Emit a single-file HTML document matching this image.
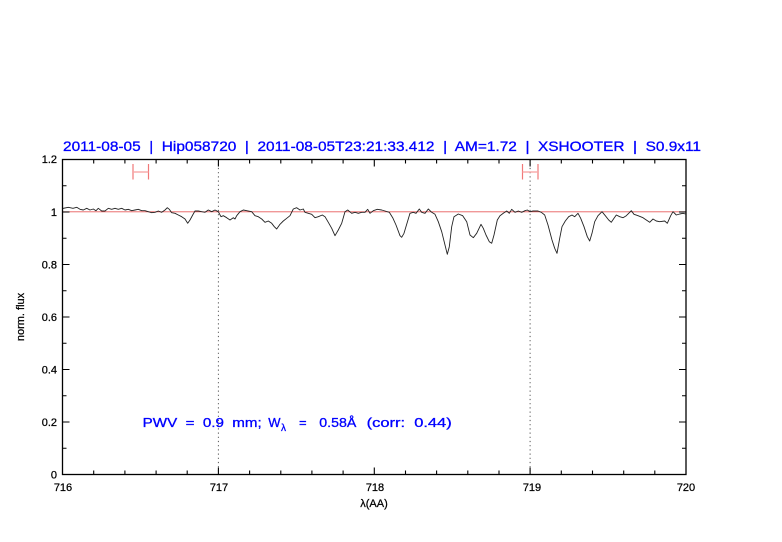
<!DOCTYPE html>
<html><head><meta charset="utf-8"><style>
html,body{margin:0;padding:0;background:#fff;}
svg{display:block;}
</style></head><body>
<svg width="782" height="542" viewBox="0 0 782 542" xmlns="http://www.w3.org/2000/svg" font-family="'Liberation Sans', sans-serif">
<rect width="782" height="542" fill="#fff"/>
<!-- title -->
<text x="63" y="151" font-size="14" fill="#0000ff" stroke="#0000ff" stroke-width="0.3" textLength="638" lengthAdjust="spacingAndGlyphs" xml:space="preserve">2011-08-05  |  Hip058720  |  2011-08-05T23:21:33.412  |  AM=1.72  |  XSHOOTER  |  S0.9x11</text>
<!-- reference line at 1.0 -->
<line x1="62.5" y1="211.8" x2="686" y2="211.8" stroke="#e85a5a" stroke-width="0.9"/>
<!-- dotted verticals -->
<line x1="218.4" y1="159.5" x2="218.4" y2="474.5" stroke="#555" stroke-width="1" stroke-dasharray="1.2,3"/>
<line x1="530.1" y1="159.5" x2="530.1" y2="474.5" stroke="#555" stroke-width="1" stroke-dasharray="1.2,3"/>
<!-- error bars -->
<g stroke="#f07878" stroke-width="1.2">
<line x1="133" y1="164" x2="133" y2="179.5"/><line x1="148.5" y1="164" x2="148.5" y2="179.5"/>
<line x1="522.5" y1="164" x2="522.5" y2="179.5"/><line x1="538" y1="164" x2="538" y2="179.5"/>
</g>
<g stroke="#f8a8a8" stroke-width="1.4">
<line x1="133" y1="172" x2="148.5" y2="172"/><line x1="522.5" y1="172" x2="538" y2="172"/>
</g>
<!-- spectrum -->
<polyline fill="none" stroke="#222" stroke-width="0.9" stroke-linejoin="round" points="
62.5,208.5 68.3,207.3 73,208.3 76.7,207.3 80,209.3 83.3,210 86.7,208.3 90,210 93.3,209 96,210.7 98.3,208.3 101.7,211 105,211 108.3,208.3 111.7,209.3 115,208.3 118.3,209.3 121.7,208.3 125,210 128.3,209.3 131.7,210.7 135,210 138.3,209.3 141.7,210.7 145,210.7 148.3,211.7 151.7,212.7 155,212.3 158.3,211 161.7,212.3 165,210 167.3,207.7 169.3,209.3 171.7,212.7 175,213.3 178.3,215 181.7,216.7 185,219 187.7,223.3 190,220 192.7,215 195,211 198.3,211 201.7,211.7 205,212.3 208.3,210 211.7,211.7 215,210 218.3,211.7 221,216.7 223.3,215.7 226.7,217.7 230,220 233.3,217.7 235,219 236.7,215.7 240,211.7 243.3,210 246.7,210.7 251.7,211.7 255,215.7 258.3,216.7 261.7,219 265,222.3 268.3,221 271.7,223.3 274.3,226.7 276.7,229 280,224.3 283.3,221 286.7,218.3 290,215.7 293.3,209 296.7,207.7 300,210 303.3,209 305,212.3 308.3,213.3 311.7,214.3 315,217.7 318.3,216.7 322.3,215 325,216.7 328.3,222.3 331.7,228.3 335,235.7 338.3,230 341.7,223.3 345,211.7 347.7,210 351.7,213.3 355,212.3 358.3,213.3 361.7,212.3 365,212.3 367.7,209.3 370,213.3 373.3,210.7 377.3,209.3 381.7,210 385,211 389.3,212.3 392.7,217.7 396,225 400,235.7 401.7,237.3 404,233.3 407.3,222.3 410,213.3 413.3,212.3 416,213.3 419.3,209 421.7,212.3 425,213.3 428.3,209 431.7,212.3 435,214.3 438.3,221.7 441.7,231.7 445,245 447.3,254.3 449.3,246.7 451.7,226.7 454,216.7 458.3,214 462.7,215.7 466.7,221.7 470,235 473.3,237.7 476.7,233.3 481,224.3 483.3,228.3 486,235 489.3,241.7 491.7,243.3 494,235 497.3,220 500,215.7 503.3,213.3 506.7,211 509.3,213.3 511.7,209.3 515,212.3 518.3,211 521.7,212.3 525,210.7 527.3,210 530,211.7 533,211 538,211 541.3,212.3 544.7,215 548,225 552,240 554.7,248.3 557,253.3 559.7,238.3 562,226.7 565.3,221 568.7,216.7 572,215 574.7,216.7 578,213.3 580.7,218.3 584,226.7 587.3,236.7 589.7,241 592,233.3 594.7,221.7 598,215.7 602,211.7 605.3,215.7 608.7,220 611.3,222.3 614,218.3 616.3,215 619.7,216.7 623,217.7 626.3,215.7 628.7,213.3 631.3,210.7 634,214.3 638,215.7 643,217.7 646.3,220 649.7,222.3 653,219 656.3,221 659.7,221.7 664.7,221 667.3,223.3 670.7,215.7 673,211.7 676.3,215 679.7,214 683,213.3 685.5,214"/>
<!-- axes box -->
<rect x="62.5" y="159.5" width="623.5" height="315" fill="none" stroke="#000" stroke-width="1.3"/>
<!-- ticks -->
<g stroke="#000" stroke-width="1.1">
<path d="M218.4,474.5v-7M374.3,474.5v-7M530.1,474.5v-7M218.4,159.5v7M374.3,159.5v7M530.1,159.5v7"/>
<path d="M93.7,474.5v-4M124.9,474.5v-4M156.1,474.5v-4M187.2,474.5v-4M249.6,474.5v-4M280.8,474.5v-4M311.9,474.5v-4M343.1,474.5v-4M405.5,474.5v-4M436.6,474.5v-4M467.8,474.5v-4M499,474.5v-4M561.3,474.5v-4M592.5,474.5v-4M623.7,474.5v-4M654.8,474.5v-4
M93.7,159.5v4M124.9,159.5v4M156.1,159.5v4M187.2,159.5v4M249.6,159.5v4M280.8,159.5v4M311.9,159.5v4M343.1,159.5v4M405.5,159.5v4M436.6,159.5v4M467.8,159.5v4M499,159.5v4M561.3,159.5v4M592.5,159.5v4M623.7,159.5v4M654.8,159.5v4"/>
<path d="M62.5,422h7M62.5,369.5h7M62.5,317h7M62.5,264.5h7M62.5,212h7M686,422h-7M686,369.5h-7M686,317h-7M686,264.5h-7M686,212h-7"/>
<path d="M62.5,448.25h4M62.5,395.75h4M62.5,343.25h4M62.5,290.75h4M62.5,238.25h4M62.5,185.75h4
M686,448.25h-4M686,395.75h-4M686,343.25h-4M686,290.75h-4M686,238.25h-4M686,185.75h-4"/>
</g>
<!-- y tick labels -->
<g font-size="11" fill="#000" stroke="#000" stroke-width="0.25" text-anchor="end">
<text x="57" y="163">1.2</text>
<text x="57" y="216">1</text>
<text x="57" y="268.5">0.8</text>
<text x="57" y="321">0.6</text>
<text x="57" y="373.5">0.4</text>
<text x="57" y="426">0.2</text>
<text x="57" y="478.5">0</text>
</g>
<!-- x tick labels -->
<g font-size="11" fill="#000" stroke="#000" stroke-width="0.25" text-anchor="middle">
<text x="63" y="491">716</text>
<text x="219" y="491">717</text>
<text x="375" y="491">718</text>
<text x="532" y="491">719</text>
<text x="686" y="491">720</text>
</g>
<text x="374" y="507" font-size="11" fill="#000" stroke="#000" stroke-width="0.25" text-anchor="middle">λ(AA)</text>
<text transform="translate(24,317) rotate(-90)" font-size="11" fill="#000" stroke="#000" stroke-width="0.25" text-anchor="middle">norm. flux</text>
<!-- PWV annotation -->
<g font-size="13" fill="#0000ff" stroke="#0000ff" stroke-width="0.3">
<text x="142.7" y="427" textLength="119" lengthAdjust="spacingAndGlyphs" xml:space="preserve">PWV  =  0.9  mm;</text>
<text x="268.3" y="427">W</text>
<text x="281" y="431" font-size="10">λ</text>
<text x="299" y="427">=</text>
<text x="319.3" y="427" textLength="37" lengthAdjust="spacingAndGlyphs">0.58Å</text>
<text x="366.7" y="427" textLength="85" lengthAdjust="spacingAndGlyphs" xml:space="preserve">(corr:  0.44)</text>
</g>
</svg>
</body></html>
